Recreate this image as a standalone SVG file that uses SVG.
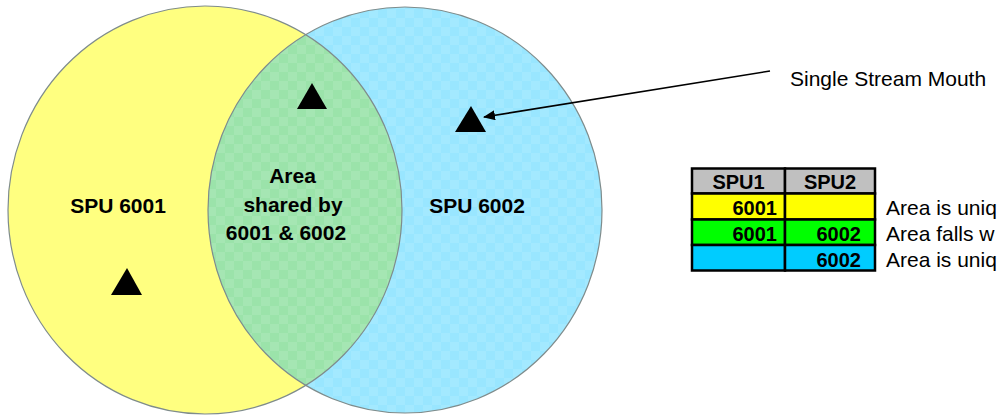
<svg xmlns="http://www.w3.org/2000/svg" width="999" height="418" viewBox="0 0 999 418">
  <style>
    .lbl { font-family: "Liberation Sans", Arial, sans-serif; font-weight: bold; font-size: 21px; fill: #000; }
    .note { font-family: "Liberation Sans", Arial, sans-serif; font-size: 21px; fill: #000; }
    .th { font-family: "Liberation Sans", Arial, sans-serif; font-weight: bold; font-size: 20px; fill: #000; text-anchor: middle; }
    .td { font-family: "Liberation Sans", Arial, sans-serif; font-weight: bold; font-size: 20px; fill: #000; text-anchor: end; }
    .cell { stroke: #000; stroke-width: 2.5; }
    .mouth { fill: #000; }
  </style>
  <defs>
    <!-- soft checker texture over the second area -->
    <pattern id="checker" width="18" height="18" patternUnits="userSpaceOnUse">
      <rect x="0" y="0" width="9" height="9" fill="#ffffff" opacity="0.10"/>
      <rect x="9" y="9" width="9" height="9" fill="#ffffff" opacity="0.10"/>
    </pattern>
    <clipPath id="clip6001">
      <ellipse cx="205" cy="210" rx="197" ry="204"/>
    </clipPath>
    <marker id="arrow" markerWidth="12" markerHeight="10" refX="11" refY="5" orient="auto" markerUnits="userSpaceOnUse">
      <path d="M0,0 L12,5 L0,10 Z" fill="#000"/>
    </marker>
  </defs>

  <rect width="999" height="418" fill="#ffffff"/>

  <g id="spu-6001">
    <ellipse cx="205" cy="210" rx="197" ry="204" fill="#ffff80"/>
  </g>

  <g id="spu-6002">
    <ellipse cx="405" cy="210" rx="197" ry="203" fill="#99e6ff"/>
    <ellipse cx="405" cy="210" rx="197" ry="203" fill="url(#checker)"/>
  </g>

  <g id="shared-area">
    <g clip-path="url(#clip6001)">
      <ellipse cx="405" cy="210" rx="197" ry="203" fill="#9be3aa"/>
      <ellipse cx="405" cy="210" rx="197" ry="203" fill="url(#checker)"/>
    </g>
  </g>

  <!-- outlines -->
  <ellipse cx="205" cy="210" rx="197" ry="204" fill="none" stroke="#7f8c8c" stroke-width="1.2"/>
  <ellipse cx="405" cy="210" rx="197" ry="203" fill="none" stroke="#7f8c8c" stroke-width="1.2"/>

  <!-- labels -->
  <text class="lbl" x="118" y="213" text-anchor="middle">SPU 6001</text>
  <text class="lbl" x="477" y="213" text-anchor="middle">SPU 6002</text>
  <text class="lbl" x="292.5" y="183" text-anchor="middle">Area</text>
  <text class="lbl" x="293" y="212" text-anchor="middle">shared by</text>
  <text class="lbl" x="286" y="240" text-anchor="middle">6001 &amp; 6002</text>

  <!-- stream mouths -->
  <g id="mouths">
    <polygon class="mouth" points="312,83 297,109 327,109"/>
    <polygon class="mouth" points="471,106 455,132 486,132"/>
    <polygon class="mouth" points="127,268 111,295 142,295"/>
  </g>

  <g id="connectors">
    <line x1="770" y1="71" x2="484" y2="117" stroke="#000" stroke-width="1.6" marker-end="url(#arrow)"/>
  </g>

  <g id="callout">
    <text class="note" x="790" y="86">Single Stream Mouth</text>
  </g>

  <g id="legend">
    <rect class="cell" x="692" y="168.5" width="93" height="25" fill="#c0c0c0"/>
    <rect class="cell" x="785" y="168.5" width="90" height="25" fill="#c0c0c0"/>
    <rect class="cell" x="692" y="193.5" width="93" height="26" fill="#ffff00"/>
    <rect class="cell" x="785" y="193.5" width="90" height="26" fill="#ffff00"/>
    <rect class="cell" x="692" y="219.5" width="93" height="25.5" fill="#00ff00"/>
    <rect class="cell" x="785" y="219.5" width="90" height="25.5" fill="#00ff00"/>
    <rect class="cell" x="692" y="245" width="93" height="25.5" fill="#00ccff"/>
    <rect class="cell" x="785" y="245" width="90" height="25.5" fill="#00ccff"/>
    <text class="th" x="738.5" y="189">SPU1</text>
    <text class="th" x="830" y="189">SPU2</text>
    <text class="td" x="777" y="215">6001</text>
    <text class="td" x="777" y="241">6001</text>
    <text class="td" x="861" y="241">6002</text>
    <text class="td" x="861" y="266.5">6002</text>
    <text class="note" x="886" y="215">Area is uniq</text>
    <text class="note" x="886" y="241">Area falls w</text>
    <text class="note" x="886" y="266.5">Area is uniq</text>
  </g>
</svg>
